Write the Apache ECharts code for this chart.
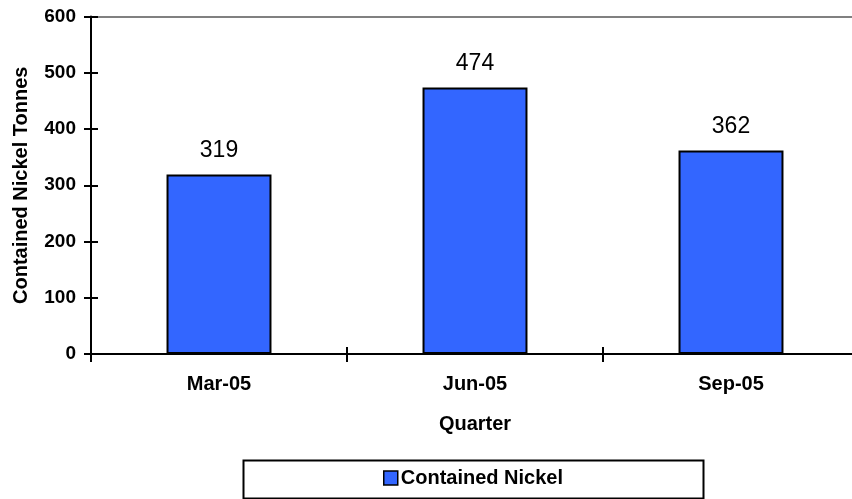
<!DOCTYPE html>
<html>
<head>
<meta charset="utf-8">
<script src="https://cdn.jsdelivr.net/npm/echarts@6/dist/echarts.min.js"></script>
<style>
  html, body { margin: 0; padding: 0; background: #ffffff; }
  #chart { width: 852px; height: 499px; }
</style>
</head>
<body>
<div id="chart"></div>
<script>
// Quarterly contained nickel output
const quarters = ['Mar-05', 'Jun-05', 'Sep-05'];
const containedNickel = [319, 474, 362];
const seriesName = 'Contained Nickel';
const yTicks = { min: 0, max: 600, interval: 100 };

const FONT = 'Arial, "Liberation Sans", sans-serif';
const chart = echarts.init(document.getElementById('chart'));

// plot area runs slightly past the right edge of the canvas
const gridBox = { left: 91, top: 16.5, width: 768, bottom: 145, outerBoundsMode: 'none', containLabel: false };

chart.setOption({
  animation: false,
  backgroundColor: '#ffffff',
  grid: gridBox,
  xAxis: [
    {
      type: 'category',
      data: quarters,
      position: 'bottom',
      name: 'Quarter',
      nameLocation: 'middle',
      nameGap: 60,
      nameTextStyle: { fontFamily: FONT, fontWeight: 'bold', fontSize: 20, color: '#000' },
      axisLine: { lineStyle: { color: '#000', width: 2 } },
      axisTick: { show: true, length: 8, lineStyle: { color: '#000', width: 2 } },
      axisLabel: { margin: 20, fontFamily: FONT, fontWeight: 'bold', fontSize: 20, color: '#000' }
    },
    {
      // inner half of the crossing category ticks
      type: 'category',
      data: quarters,
      position: 'bottom',
      axisLine: { show: false },
      axisTick: { show: true, inside: true, length: 7, lineStyle: { color: '#000', width: 2 } },
      axisLabel: { show: false }
    },
    {
      // grey frame line along the top of the plot
      type: 'category',
      data: quarters,
      position: 'top',
      axisLine: { lineStyle: { color: '#808080', width: 2 } },
      axisTick: { show: false },
      axisLabel: { show: false }
    }
  ],
  yAxis: [
    {
      type: 'value',
      min: yTicks.min,
      max: yTicks.max,
      interval: yTicks.interval,
      name: 'Contained Nickel Tonnes',
      nameLocation: 'middle',
      nameGap: 60,
      nameRotate: 90,
      nameTextStyle: { fontFamily: FONT, fontWeight: 'bold', fontSize: 20, color: '#000' },
      axisLine: { show: true, lineStyle: { color: '#000', width: 2 } },
      axisTick: { show: true, length: 7, lineStyle: { color: '#000', width: 2 } },
      axisLabel: { margin: 15, fontFamily: FONT, fontWeight: 'bold', fontSize: 19, color: '#000' },
      splitLine: { show: false }
    },
    {
      // inner half of the crossing value ticks
      type: 'value',
      min: yTicks.min,
      max: yTicks.max,
      interval: yTicks.interval,
      position: 'left',
      axisLine: { show: false },
      axisTick: { show: true, inside: true, length: 7, lineStyle: { color: '#000', width: 2 } },
      axisLabel: { show: false },
      splitLine: { show: false }
    }
  ],
  legend: {
    data: [seriesName],
    left: 383,
    top: 468,
    icon: 'rect',
    itemWidth: 14,
    itemHeight: 14,
    itemGap: 10,
    padding: 0,
    textStyle: { fontFamily: FONT, fontWeight: 'bold', fontSize: 20, color: '#000', padding: [0, 0, 0, -2] },
    itemStyle: { borderColor: '#000', borderWidth: 1.5 }
  },
  graphic: [
    {
      type: 'rect',
      left: 241,
      top: 458,
      shape: { width: 460, height: 38 },
      style: { fill: 'none', stroke: '#000', lineWidth: 2 },
      z: 0
    }
  ],
  series: [
    {
      name: seriesName,
      type: 'bar',
      xAxisIndex: 0,
      yAxisIndex: 0,
      data: containedNickel,
      barWidth: '41%',
      itemStyle: { color: '#3366FF', borderColor: '#000', borderWidth: 2 },
      label: {
        show: true,
        position: 'top',
        distance: 12,
        fontFamily: FONT,
        fontSize: 23,
        color: '#000'
      }
    }
  ]
});
</script>
</body>
</html>
